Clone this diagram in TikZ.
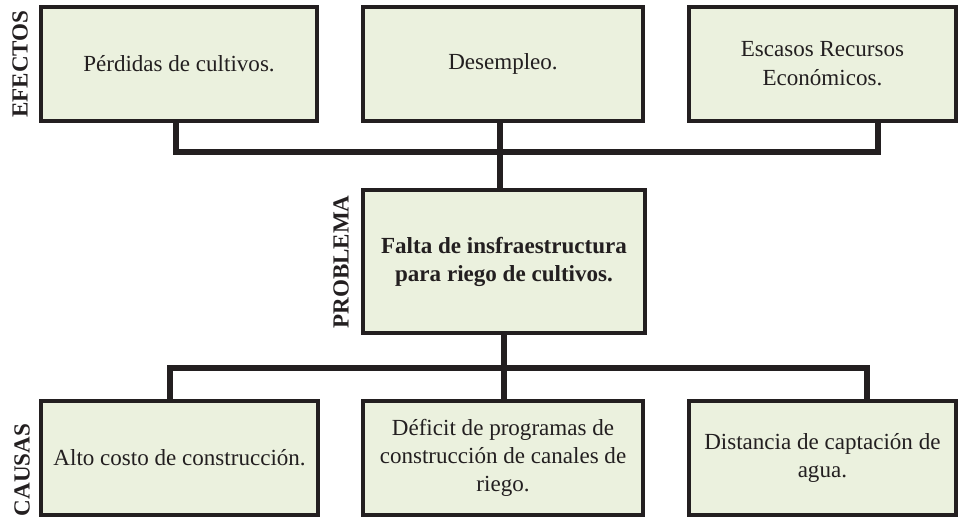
\documentclass[tikz,border=0pt]{standalone}
\usepackage{fontspec}
\setmainfont{Liberation Serif}
\definecolor{verdeclaro}{HTML}{EBF1DE}
\definecolor{negro}{HTML}{231F20}

\begin{document}
\begin{tikzpicture}[
  cuadro/.style={draw=negro, text=negro, line width=2.8pt, fill=verdeclaro,
    minimum height=2.85cm, align=center, font=\fontsize{16.4}{20}\selectfont},
  enlace/.style={draw=negro, line width=4.3pt},
  etiqueta/.style={rotate=90, text=negro, font=\fontsize{16.4}{20}\selectfont\bfseries}]
\useasboundingbox (0,0) rectangle (23.95,12.95);
% Efectos
\node[cuadro, minimum width=6.9cm] (ef1) at (4.475,11.36) {Pérdidas de cultivos.};
\node[cuadro, minimum width=7.0cm] (ef2) at (12.575,11.36) {Desempleo.};
\node[cuadro, minimum width=6.675cm] (ef3) at (20.56,11.36) {Escasos Recursos\\Económicos.};
\node[etiqueta] (lef) at (0.5,11.35) {EFECTOS};
% Problema
\node[cuadro, minimum width=7.05cm, minimum height=3.575cm,
  font=\fontsize{16.4}{20}\selectfont\bfseries] (prob) at (12.6,6.41)
  {Falta de insfraestructura\\para riego de cultivos.};
\node[etiqueta] (lprob) at (8.53,6.4) {PROBLEMA};
% Causas
\node[cuadro, minimum width=6.925cm] (ca1) at (4.49,1.5) {Alto costo de construcción.};
\node[cuadro, minimum width=7.0cm] (ca2) at (12.575,1.5)
  {Déficit de programas de\\construcción de canales de\\riego.};
\node[cuadro, minimum width=6.675cm] (ca3) at (20.56,1.5) {Distancia de captación de\\agua.};
\node[etiqueta] (lca) at (0.55,1.2) {CAUSAS};
% enlaces arriba
\coordinate (bus1) at (12.5,9.15);
\draw[enlace] ([xshift=-0.075cm]ef1.south) |- (bus1) -| ([xshift=1.39cm]ef3.south);
\draw[enlace] ([xshift=-0.075cm]ef2.south) -- ([xshift=-0.075cm]ef2.south |- prob.north);
% enlaces abajo
\coordinate (bus2) at (12.6,3.75);
\draw[enlace] (prob.south) -- (prob.south |- ca2.north);
\draw[enlace] ([xshift=-0.24cm]ca1.north) |- (bus2) -| ([xshift=1.11cm]ca3.north);
\end{tikzpicture}
\end{document}
